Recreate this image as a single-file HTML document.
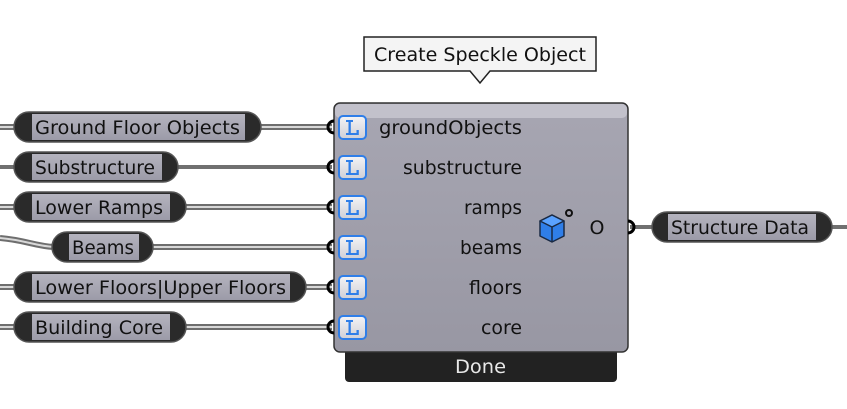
<!DOCTYPE html>
<html><head><meta charset="utf-8"><style>
html,body{margin:0;padding:0;background:#fff;width:847px;height:409px;overflow:hidden}
text{font-family:"DejaVu Sans","Liberation Sans",sans-serif}
</style></head><body>
<svg width="847" height="409" viewBox="0 0 847 409" xmlns="http://www.w3.org/2000/svg">
<defs>
<linearGradient id="pg" x1="0" y1="0" x2="0" y2="1"><stop offset="0" stop-color="#b4b3be"/><stop offset="1" stop-color="#9c9ba8"/></linearGradient>
<linearGradient id="bg" x1="0" y1="0" x2="0" y2="1"><stop offset="0" stop-color="#a7a6b2"/><stop offset="1" stop-color="#9897a3"/></linearGradient>
<linearGradient id="ig" x1="0" y1="0" x2="0" y2="1"><stop offset="0" stop-color="#f4f4f6"/><stop offset="1" stop-color="#cfcfd6"/></linearGradient>
</defs>
<g fill="none" stroke-linecap="butt">
 <g stroke="#6e6e6e" stroke-width="6">
  <line x1="0" y1="127" x2="16" y2="127"/><line x1="258" y1="127" x2="332" y2="127"/>
  <line x1="0" y1="207" x2="16" y2="207"/><line x1="184" y1="207" x2="332" y2="207"/>
  <path d="M0 238 C25 240 35 246 54 247"/><line x1="150" y1="247" x2="332" y2="247"/>
  <line x1="0" y1="287" x2="16" y2="287"/><line x1="304" y1="287" x2="332" y2="287"/>
  <line x1="0" y1="327" x2="16" y2="327"/><line x1="184" y1="327" x2="332" y2="327"/>
 </g>
 <g stroke="#d8d8d8" stroke-width="2">
  <line x1="0" y1="127" x2="16" y2="127"/><line x1="258" y1="127" x2="332" y2="127"/>
  <line x1="0" y1="207" x2="16" y2="207"/><line x1="184" y1="207" x2="332" y2="207"/>
  <path d="M0 238 C25 240 35 246 54 247"/><line x1="150" y1="247" x2="332" y2="247"/>
  <line x1="0" y1="287" x2="16" y2="287"/><line x1="304" y1="287" x2="332" y2="287"/>
  <line x1="0" y1="327" x2="16" y2="327"/><line x1="184" y1="327" x2="332" y2="327"/>
 </g>
 <g stroke="#707070" stroke-width="4">
  <line x1="0" y1="167" x2="16" y2="167"/><line x1="176" y1="167" x2="332" y2="167"/>
  <line x1="630" y1="227" x2="654" y2="227"/><line x1="830" y1="227" x2="847" y2="227"/>
 </g>
</g>
<g font-size="19" fill="#111">
 <g><rect x="14" y="112" width="247" height="30" rx="15" fill="#2a2a2a" stroke="#555" stroke-width="1.5"/><rect x="32" y="114" width="213" height="26" fill="url(#pg)"/><text x="35" y="134" textLength="205" lengthAdjust="spacingAndGlyphs">Ground Floor Objects</text></g>
 <g><rect x="14" y="152" width="164" height="30" rx="15" fill="#2a2a2a" stroke="#555" stroke-width="1.5"/><rect x="32" y="154" width="130" height="26" fill="url(#pg)"/><text x="35" y="174" textLength="120" lengthAdjust="spacingAndGlyphs">Substructure</text></g>
 <g><rect x="14" y="192" width="172" height="30" rx="15" fill="#2a2a2a" stroke="#555" stroke-width="1.5"/><rect x="32" y="194" width="138" height="26" fill="url(#pg)"/><text x="35" y="214" textLength="128" lengthAdjust="spacingAndGlyphs">Lower Ramps</text></g>
 <g><rect x="52" y="232" width="101" height="30" rx="15" fill="#2a2a2a" stroke="#555" stroke-width="1.5"/><rect x="69" y="234" width="70" height="26" fill="url(#pg)"/><text x="72" y="254" textLength="62" lengthAdjust="spacingAndGlyphs">Beams</text></g>
 <g><rect x="14" y="272" width="292" height="30" rx="15" fill="#2a2a2a" stroke="#555" stroke-width="1.5"/><rect x="32" y="274" width="258" height="26" fill="url(#pg)"/><text x="35" y="294" textLength="251" lengthAdjust="spacingAndGlyphs">Lower Floors|Upper Floors</text></g>
 <g><rect x="14" y="312" width="172" height="30" rx="15" fill="#2a2a2a" stroke="#555" stroke-width="1.5"/><rect x="32" y="314" width="138" height="26" fill="url(#pg)"/><text x="35" y="334" textLength="128" lengthAdjust="spacingAndGlyphs">Building Core</text></g>
 <g><rect x="652" y="212" width="180" height="30" rx="15" fill="#2a2a2a" stroke="#555" stroke-width="1.5"/><rect x="668" y="214" width="148" height="26" fill="url(#pg)"/><text x="671" y="234" textLength="138" lengthAdjust="spacingAndGlyphs">Structure Data</text></g>
</g>
<path d="M364 37 H596 V71 H490 L480 83 L470 71 H364 Z" fill="#f4f4f4" stroke="#222" stroke-width="1.5"/>
<text x="374" y="61" font-size="19" fill="#111" textLength="212" lengthAdjust="spacingAndGlyphs">Create Speckle Object</text>
<rect x="345" y="340" width="272" height="42" rx="4" fill="#222"/>
<text x="455" y="373" font-size="19" fill="#e8e8e8" textLength="51" lengthAdjust="spacingAndGlyphs">Done</text>
<rect x="334" y="103" width="294" height="249" rx="6" fill="url(#bg)" stroke="#333" stroke-width="1.5"/>
<rect x="335" y="104" width="292" height="14" rx="5" fill="#c2c1cb"/>
<g fill="none" stroke="#000" stroke-width="3">
 <path d="M334 121 A6 6 0 0 0 334 133"/><path d="M334 161 A6 6 0 0 0 334 173"/><path d="M334 201 A6 6 0 0 0 334 213"/>
 <path d="M334 241 A6 6 0 0 0 334 253"/><path d="M334 281 A6 6 0 0 0 334 293"/><path d="M334 321 A6 6 0 0 0 334 333"/>
 <path d="M628 221 A6 6 0 0 1 628 233"/>
</g>
<g fill="#2f7ee8" stroke="none">
 <g><rect x="339" y="116" width="27" height="23" rx="4" fill="url(#ig)" stroke="#2f7ee8" stroke-width="2"/><path d="M346 120h7v2h-2.2v11h5.7v-3h2.3v5h-12.8v-2h2.5v-11h-2.5z"/></g>
 <g><rect x="339" y="156" width="27" height="23" rx="4" fill="url(#ig)" stroke="#2f7ee8" stroke-width="2"/><path d="M346 160h7v2h-2.2v11h5.7v-3h2.3v5h-12.8v-2h2.5v-11h-2.5z"/></g>
 <g><rect x="339" y="196" width="27" height="23" rx="4" fill="url(#ig)" stroke="#2f7ee8" stroke-width="2"/><path d="M346 200h7v2h-2.2v11h5.7v-3h2.3v5h-12.8v-2h2.5v-11h-2.5z"/></g>
 <g><rect x="339" y="236" width="27" height="23" rx="4" fill="url(#ig)" stroke="#2f7ee8" stroke-width="2"/><path d="M346 240h7v2h-2.2v11h5.7v-3h2.3v5h-12.8v-2h2.5v-11h-2.5z"/></g>
 <g><rect x="339" y="276" width="27" height="23" rx="4" fill="url(#ig)" stroke="#2f7ee8" stroke-width="2"/><path d="M346 280h7v2h-2.2v11h5.7v-3h2.3v5h-12.8v-2h2.5v-11h-2.5z"/></g>
 <g><rect x="339" y="316" width="27" height="23" rx="4" fill="url(#ig)" stroke="#2f7ee8" stroke-width="2"/><path d="M346 320h7v2h-2.2v11h5.7v-3h2.3v5h-12.8v-2h2.5v-11h-2.5z"/></g>
</g>
<g font-size="19" fill="#111">
 <text x="379" y="134" textLength="143" lengthAdjust="spacingAndGlyphs">groundObjects</text>
 <text x="403" y="174" textLength="119" lengthAdjust="spacingAndGlyphs">substructure</text>
 <text x="464" y="214" textLength="58" lengthAdjust="spacingAndGlyphs">ramps</text>
 <text x="460" y="254" textLength="62" lengthAdjust="spacingAndGlyphs">beams</text>
 <text x="469" y="294" textLength="53" lengthAdjust="spacingAndGlyphs">floors</text>
 <text x="481" y="334" textLength="41" lengthAdjust="spacingAndGlyphs">core</text>
 <text x="597" y="234" text-anchor="middle">O</text>
</g>
<g stroke="#1a2a44" stroke-width="1.5" stroke-linejoin="round">
 <path d="M552 215 L564 221 L564 236 L552 242 L540 236 L540 221 Z" fill="#2f7ee8"/>
 <path d="M540 221 L552 227 L564 221 L552 215 Z" fill="#5aa2ff"/>
 <path d="M552 227 L552 242" fill="none"/>
</g>
<circle cx="569" cy="213" r="3" fill="none" stroke="#111" stroke-width="2"/>
</svg>
</body></html>
